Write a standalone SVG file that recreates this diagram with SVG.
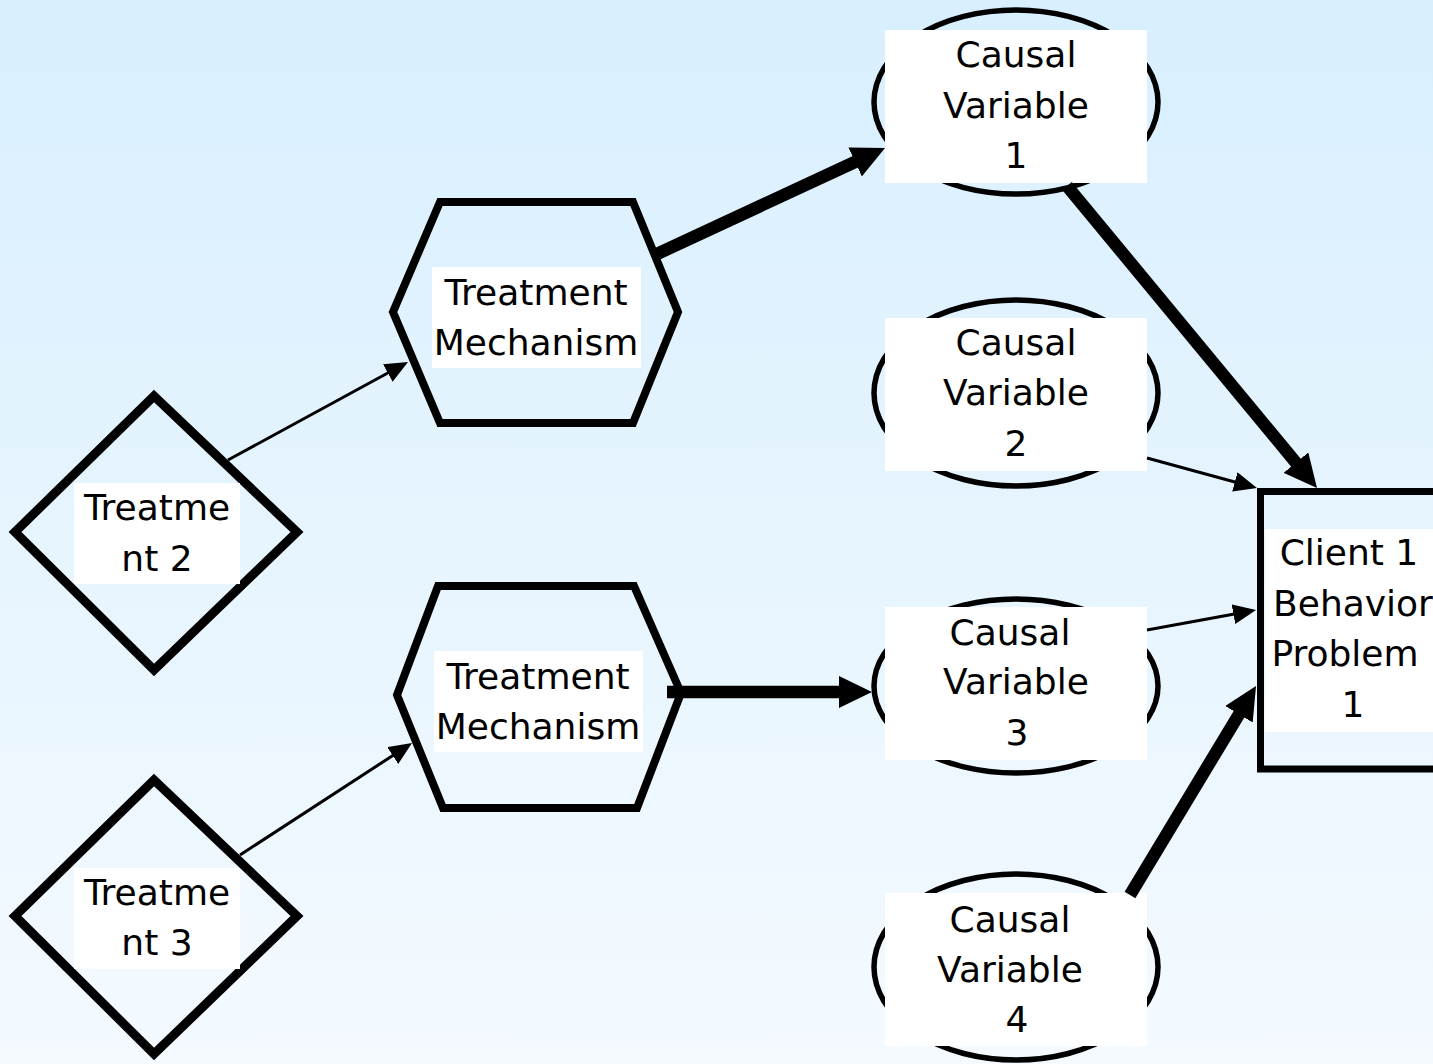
<svg xmlns="http://www.w3.org/2000/svg" width="1433" height="1064" viewBox="0 0 1433 1064">
  <defs>
    <linearGradient id="bg" x1="0" y1="0" x2="0" y2="1">
      <stop offset="0" stop-color="#d8effe"/>
      <stop offset="1" stop-color="#f4faff"/>
    </linearGradient>
    <marker id="thin" markerUnits="userSpaceOnUse" markerWidth="24" markerHeight="20" refX="1" refY="10" orient="auto">
      <path d="M0,0 L23,10 L0,20 z" fill="#000"/>
    </marker>
    <marker id="thick" markerUnits="userSpaceOnUse" markerWidth="34" markerHeight="32" refX="1" refY="16" orient="auto">
      <path d="M0,0 L33,16 L0,32 z" fill="#000"/>
    </marker>
    <style>
      .shape { fill: none; stroke: #000; stroke-linejoin: miter; }
      .ell { fill: none; stroke: #000; stroke-width: 5.5; }
      .lbl { fill: #fff; stroke: none; }
      .t { font-family: "DejaVu Sans", Verdana, sans-serif; font-size: 36px; fill: #000; text-anchor: middle; }
      .thin { stroke: #000; stroke-width: 3; fill: none; marker-end: url(#thin); }
      .thick { stroke: #000; stroke-width: 12.5; fill: none; marker-end: url(#thick); }
    </style>
  </defs>
  <rect x="0" y="0" width="1433" height="1064" fill="url(#bg)"/>

  <g id="treatment2">
    <polygon class="shape" stroke-width="9" points="154,396 297,532 154,670 15,532"/>
    <rect class="lbl" x="74" y="483" width="166" height="101"/>
    <text class="t" x="157" y="520">Treatme</text>
    <text class="t" x="157" y="571">nt 2</text>
  </g>
  <g id="treatment3">
    <polygon class="shape" stroke-width="9" points="154,780 297,916 154,1054 15,916"/>
    <rect class="lbl" x="74" y="868" width="166" height="101"/>
    <text class="t" x="157" y="905">Treatme</text>
    <text class="t" x="157" y="955">nt 3</text>
  </g>
  <g id="mechanism1">
    <polygon class="shape" stroke-width="8" points="440,202 633,202 678,312 633,423 440,423 393,312"/>
    <rect class="lbl" x="432" y="267" width="209" height="101"/>
    <text class="t" x="536" y="305">Treatment</text>
    <text class="t" x="536" y="355">Mechanism</text>
  </g>
  <g id="mechanism2">
    <polygon class="shape" stroke-width="8" points="438,586 634,586 681,693 637,808 443,808 397,695"/>
    <rect class="lbl" x="434" y="651" width="209" height="101"/>
    <text class="t" x="538" y="689">Treatment</text>
    <text class="t" x="538" y="739">Mechanism</text>
  </g>
  <g id="causal1">
    <ellipse class="ell" cx="1016" cy="102" rx="142" ry="92"/>
    <rect class="lbl" x="885" y="30" width="262" height="153"/>
    <text class="t" x="1016" y="67">Causal</text>
    <text class="t" x="1016" y="118">Variable</text>
    <text class="t" x="1016" y="168">1</text>
  </g>
  <g id="causal2">
    <ellipse class="ell" cx="1016" cy="393" rx="142" ry="93"/>
    <rect class="lbl" x="885" y="318" width="262" height="153"/>
    <text class="t" x="1016" y="355">Causal</text>
    <text class="t" x="1016" y="405">Variable</text>
    <text class="t" x="1016" y="456">2</text>
  </g>
  <g id="causal3">
    <ellipse class="ell" cx="1016" cy="686" rx="142" ry="87"/>
    <rect class="lbl" x="885" y="607" width="262" height="153"/>
    <text class="t" x="1010" y="645">Causal</text>
    <text class="t" x="1016" y="694">Variable</text>
    <text class="t" x="1017" y="745">3</text>
  </g>
  <g id="causal4">
    <ellipse class="ell" cx="1016" cy="967" rx="142" ry="93"/>
    <rect class="lbl" x="885" y="893" width="262" height="153"/>
    <text class="t" x="1010" y="932">Causal</text>
    <text class="t" x="1010" y="982">Variable</text>
    <text class="t" x="1017" y="1032">4</text>
  </g>
  <g id="client1">
    <rect class="shape" stroke-width="7" x="1260.5" y="491.5" width="190" height="277.5"/>
    <rect class="lbl" x="1265" y="529" width="175" height="203"/>
    <text class="t" x="1349" y="565">Client 1</text>
    <text class="t" x="1353" y="616">Behavior</text>
    <text class="t" x="1345" y="666">Problem</text>
    <text class="t" x="1353" y="717">1</text>
  </g>

  <g id="connectors">
    <line class="thin" x1="228" y1="460" x2="388.7" y2="372.5"/>
    <line class="thin" x1="240" y1="855" x2="393.6" y2="755"/>
    <line class="thick" x1="657" y1="254" x2="856" y2="161.5"/>
    <line class="thick" x1="667" y1="692" x2="840" y2="692"/>
    <line class="thick" x1="1067" y1="186" x2="1296.6" y2="463.4"/>
    <line class="thin" x1="1147" y1="458" x2="1235.8" y2="482.2"/>
    <line class="thin" x1="1147" y1="630" x2="1234.4" y2="614"/>
    <line class="thick" x1="1130" y1="895" x2="1239.5" y2="713.4"/>
  </g>
</svg>
